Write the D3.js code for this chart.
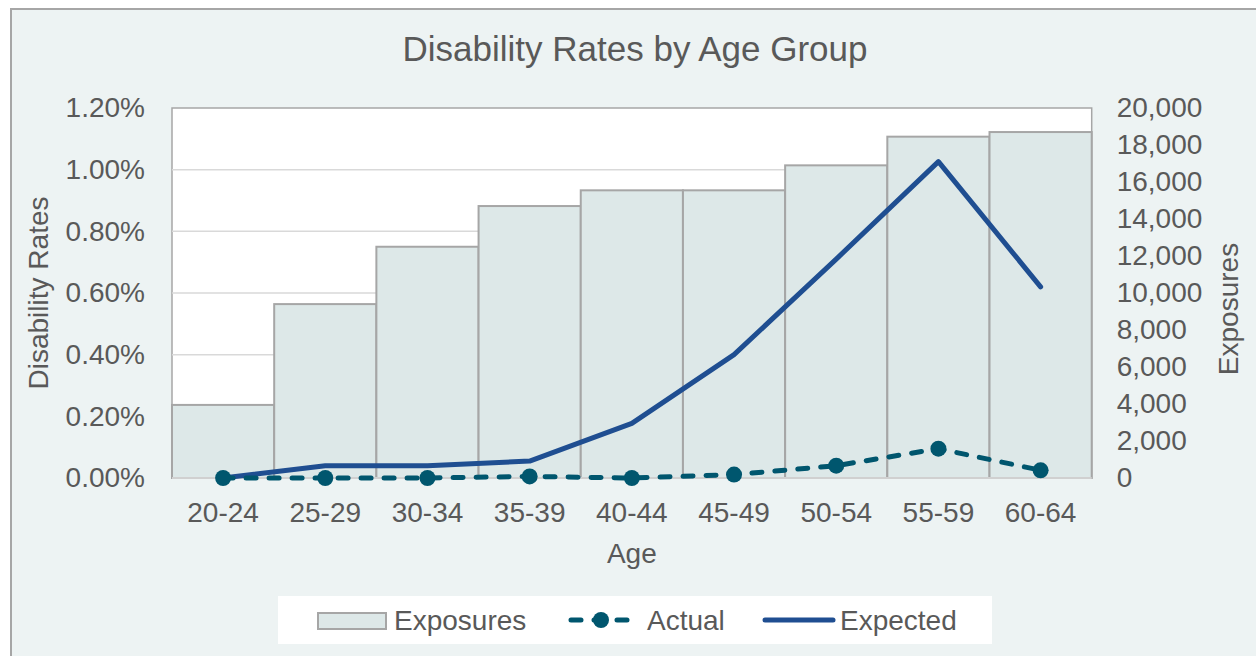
<!DOCTYPE html>
<html>
<head>
<meta charset="utf-8">
<script src="https://cdn.jsdelivr.net/npm/d3@7/dist/d3.min.js"></script>
<style>
  html, body { margin: 0; padding: 0; background: #ffffff; }
  svg { display: block; }
  text { font-family: "Liberation Sans", Arial, sans-serif; fill: #595959; }
</style>
</head>
<body>
<svg id="chart" width="1256" height="656"></svg>
<script>
// Age bands on the category axis
const ageGroups = ["20-24", "25-29", "30-34", "35-39", "40-44", "45-49", "50-54", "55-59", "60-64"];
// Exposure counts per band (right axis)
const exposures = [3950, 9400, 12500, 14700, 15550, 15550, 16900, 18450, 18700];
// Observed disability rates (left axis)
const actualRates = [0.0, 0.0, 0.0, 0.00005, 0.0, 0.00011, 0.0004, 0.00095, 0.00025];
// Expected disability rates (left axis)
const expectedRates = [0.0, 0.0004, 0.0004, 0.00055, 0.00177, 0.0040, 0.0071, 0.01026, 0.0062];
// Axis tick values
const rateTicks = [0, 0.002, 0.004, 0.006, 0.008, 0.010, 0.012];
const exposureTicks = [0, 2000, 4000, 6000, 8000, 10000, 12000, 14000, 16000, 18000, 20000];

const svg = d3.select("#chart");
const W = 1256, H = 656;
const plot = { left: 172, right: 1091.7, top: 108, bottom: 478 };

// Chart area background with its frame (extends past the lower-right edge)
svg.append("rect")
  .attr("x", 11).attr("y", 9)
  .attr("width", W + 20).attr("height", H + 20)
  .attr("fill", "#edf3f3")
  .attr("stroke", "#a6a6a6").attr("stroke-width", 2);

const x = d3.scaleBand().domain(ageGroups).range([plot.left, plot.right]).padding(0);
const yRate = d3.scaleLinear().domain([0, 0.012]).range([plot.bottom, plot.top]);
const yExp = d3.scaleLinear().domain([0, 20000]).range([plot.bottom, plot.top]);

// Plot area
svg.append("rect")
  .attr("x", plot.left).attr("y", plot.top)
  .attr("width", plot.right - plot.left).attr("height", plot.bottom - plot.top)
  .attr("fill", "#ffffff")
  .attr("stroke", "#a6a6a6").attr("stroke-width", 1.5);

// Horizontal gridlines
svg.append("g")
  .selectAll("line")
  .data(rateTicks.filter(t => t > 0 && t < 0.012))
  .join("line")
  .attr("x1", plot.left).attr("x2", plot.right)
  .attr("y1", d => yRate(d)).attr("y2", d => yRate(d))
  .attr("stroke", "#d9d9d9").attr("stroke-width", 1.5);

// Exposure bars
svg.append("g")
  .selectAll("rect")
  .data(exposures)
  .join("rect")
  .attr("x", (d, i) => x(ageGroups[i]))
  .attr("y", d => yExp(d))
  .attr("width", x.bandwidth())
  .attr("height", d => yExp(0) - yExp(d))
  .attr("fill", "#dde8e8")
  .attr("stroke", "#a6a6a6").attr("stroke-width", 2);

// Category axis baseline
svg.append("line")
  .attr("x1", plot.left).attr("x2", plot.right)
  .attr("y1", plot.bottom).attr("y2", plot.bottom)
  .attr("stroke", "#d0d0d0").attr("stroke-width", 2);

// Left axis (rates)
const leftAxis = svg.append("g")
  .attr("transform", `translate(${plot.left},0)`)
  .call(d3.axisLeft(yRate).tickValues(rateTicks).tickFormat(d3.format(".2%")).tickSize(0).tickPadding(27));
leftAxis.select(".domain").remove();
leftAxis.selectAll("text").style("font-size", "28px").attr("fill", "#595959")
  .style("font-family", '"Liberation Sans", Arial, sans-serif');

// Right axis (exposures)
const rightAxis = svg.append("g")
  .attr("transform", `translate(${plot.right},0)`)
  .call(d3.axisRight(yExp).tickValues(exposureTicks).tickFormat(d3.format(",")).tickSize(0).tickPadding(25));
rightAxis.select(".domain").remove();
rightAxis.selectAll("text").style("font-size", "28px").attr("fill", "#595959")
  .style("font-family", '"Liberation Sans", Arial, sans-serif');

// Bottom axis (age groups)
const bottomAxis = svg.append("g")
  .attr("transform", `translate(0,${plot.bottom})`)
  .call(d3.axisBottom(x).tickSize(0).tickPadding(24));
bottomAxis.select(".domain").remove();
bottomAxis.selectAll("text").style("font-size", "28px").attr("fill", "#595959")
  .style("font-family", '"Liberation Sans", Arial, sans-serif');

const cx = d => x(d) + x.bandwidth() / 2;

// Expected rates line
svg.append("path")
  .datum(expectedRates)
  .attr("d", d3.line().x((d, i) => cx(ageGroups[i])).y(d => yRate(d)))
  .attr("fill", "none")
  .attr("stroke", "#1f4e91").attr("stroke-width", 5)
  .attr("stroke-linejoin", "round").attr("stroke-linecap", "round");

// Actual rates dashed line with markers
svg.append("path")
  .datum(actualRates)
  .attr("d", d3.line().x((d, i) => cx(ageGroups[i])).y(d => yRate(d)))
  .attr("fill", "none")
  .attr("stroke", "#00566e").attr("stroke-width", 5)
  .attr("stroke-dasharray", "10 13").attr("stroke-linecap", "round");
svg.append("g")
  .selectAll("circle")
  .data(actualRates)
  .join("circle")
  .attr("cx", (d, i) => cx(ageGroups[i]))
  .attr("cy", d => yRate(d))
  .attr("r", 8)
  .attr("fill", "#00566e");

// Titles
svg.append("text")
  .attr("x", 635).attr("y", 60.5)
  .attr("text-anchor", "middle")
  .style("font-size", "35px")
  .text("Disability Rates by Age Group");

svg.append("text")
  .attr("x", (plot.left + plot.right) / 2).attr("y", 563)
  .attr("text-anchor", "middle")
  .style("font-size", "28px")
  .text("Age");

svg.append("text")
  .attr("transform", `translate(48,${(plot.top + plot.bottom) / 2}) rotate(-90)`)
  .attr("text-anchor", "middle")
  .style("font-size", "28px")
  .text("Disability Rates");

svg.append("text")
  .attr("transform", "translate(1238,309) rotate(-90)")
  .attr("text-anchor", "middle")
  .style("font-size", "28px")
  .text("Exposures");

// Legend
const legend = svg.append("g");
legend.append("rect")
  .attr("x", 278).attr("y", 596).attr("width", 714).attr("height", 48)
  .attr("fill", "#ffffff");
legend.append("rect")
  .attr("x", 318).attr("y", 613).attr("width", 68).attr("height", 16)
  .attr("fill", "#dde8e8").attr("stroke", "#a6a6a6").attr("stroke-width", 2);
legend.append("text").attr("x", 394).attr("y", 630).style("font-size", "28px").text("Exposures");

legend.append("line")
  .attr("x1", 571).attr("x2", 631).attr("y1", 620).attr("y2", 620)
  .attr("stroke", "#00566e").attr("stroke-width", 5)
  .attr("stroke-dasharray", "10 13").attr("stroke-linecap", "round");
legend.append("circle").attr("cx", 601).attr("cy", 620).attr("r", 8).attr("fill", "#00566e");
legend.append("text").attr("x", 647).attr("y", 630).style("font-size", "28px").text("Actual");

legend.append("line")
  .attr("x1", 765).attr("x2", 833).attr("y1", 620).attr("y2", 620)
  .attr("stroke", "#1f4e91").attr("stroke-width", 5).attr("stroke-linecap", "round");
legend.append("text").attr("x", 840).attr("y", 630).style("font-size", "28px").text("Expected");
</script>
</body>
</html>
